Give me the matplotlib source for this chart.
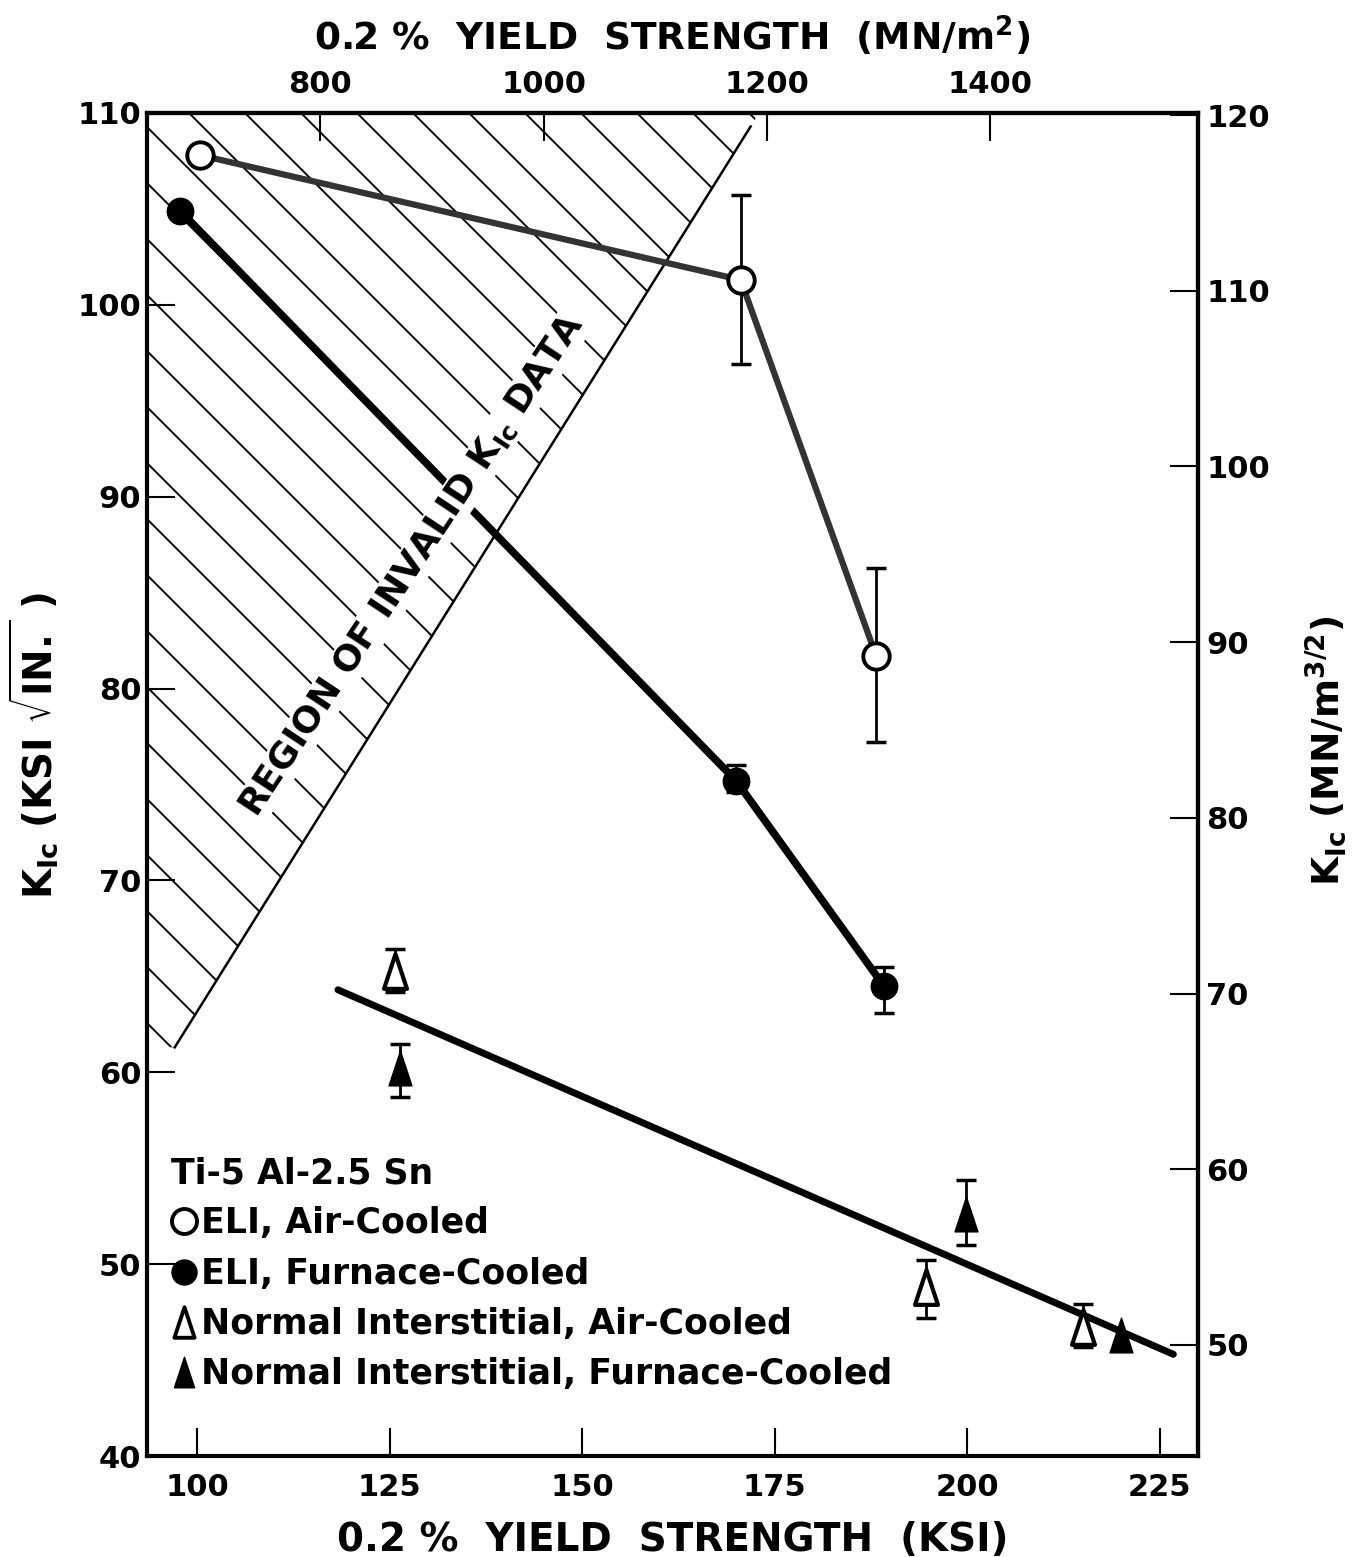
import numpy as np
import matplotlib
matplotlib.use('Agg')
import matplotlib.pyplot as plt
from matplotlib.patches import Polygon
from matplotlib.lines import Line2D
from matplotlib.path import Path

plt.rcParams['font.family'] = 'DejaVu Sans'
plt.rcParams['mathtext.default'] = 'regular'

# --- dados (KSI, KSI*sqrt(in)) ---
# ELI, resfriado ao ar (circulos abertos)
eli_ar_x = [100.4, 170.6, 188.2]
eli_ar_k = [107.8, 101.3, 81.7]
eli_ar_err_baixo = [0.0, 4.4, 4.5]
eli_ar_err_alto = [0.0, 4.4, 4.6]

# ELI, resfriado no forno (circulos cheios)
eli_forno_x = [97.8, 170.0, 189.2]
eli_forno_k = [104.9, 75.2, 64.5]
eli_forno_err_baixo = [0.0, 0.6, 1.4]
eli_forno_err_alto = [0.0, 0.8, 1.0]

# intersticial normal, ar (triangulos abertos)
normal_ar_x = [125.7, 194.7, 215.1]
normal_ar_k = [65.3, 48.8, 46.7]
normal_ar_err_baixo = [1.1, 1.6, 1.0]
normal_ar_err_alto = [1.1, 1.4, 1.2]

# intersticial normal, forno (triangulos cheios)
normal_forno_x = [126.4, 199.9, 220.0]
normal_forno_k = [60.2, 52.6, 46.3]
normal_forno_err_baixo = [1.5, 1.6, 0.0]
normal_forno_err_alto = [1.3, 1.8, 0.0]

# reta de tendencia dos intersticiais normais
tendencia_x = [118.3, 226.8]
tendencia_k = [64.3, 45.3]

# limite da regiao de dados invalidos
limite_x = [97.1, 171.9]
limite_k = [61.3, 109.3]

KSI_PARA_MN = 6.895
KIC_PARA_SI = 1.092

LARGURA_PX, ALTURA_PX, DPI = 1361, 1557, 100
figura = plt.figure(figsize=(LARGURA_PX / DPI, ALTURA_PX / DPI), dpi=DPI)
eixo = figura.add_axes([147 / LARGURA_PX, 1 - 1456 / ALTURA_PX,
                        (1198 - 147) / LARGURA_PX, (1456 - 113) / ALTURA_PX])
eixo.set_xlim(93.5, 230)
eixo.set_ylim(40, 110)

# triangulo marcado (regiao invalida)
x_min = eixo.get_xlim()[0]
inclinacao = (limite_k[1] - limite_k[0]) / (limite_x[1] - limite_x[0])
x_topo = limite_x[0] + (110 - limite_k[0]) / inclinacao
regiao = Polygon([(x_min, limite_k[0]), (limite_x[0], limite_k[0]), (x_topo, 110), (x_min, 110)],
                 closed=True, facecolor='none', edgecolor='none')
eixo.add_patch(regiao)

larg_eixo = 1198 - 147
alt_eixo = 1456 - 113
espaco = 56
for k in range(-40, 20):
    u0 = (42 + k * espaco) / larg_eixo
    linha, = eixo.plot([u0, u0 + 3000 / larg_eixo], [1, 1 - 3000 / alt_eixo],
                       transform=eixo.transAxes, color='black', lw=1.4, zorder=1)
    linha.set_clip_path(regiao)

eixo.plot(limite_x, limite_k, color='black', lw=1.8, zorder=1)

eixo.text(128.0, 86.4, r'REGION OF INVALID K$_{Ic}$ DATA', rotation=56.5,
          ha='center', va='center', fontsize=26, fontweight='bold', zorder=4,
          bbox=dict(facecolor='white', edgecolor='none', pad=1))

# linhas dos dados
eixo.plot(eli_ar_x, eli_ar_k, color='#333333', lw=4.5, zorder=3)
eixo.plot(eli_forno_x, eli_forno_k, color='black', lw=5.5, zorder=3)
eixo.plot(tendencia_x, tendencia_k, color='black', lw=5, zorder=3,
          solid_capstyle='round')


def barras_erro(x, k, baixo, alto):
    sel = [i for i in range(len(x)) if baixo[i] > 0 or alto[i] > 0]
    eixo.errorbar([x[i] for i in sel], [k[i] for i in sel],
                  yerr=[[baixo[i] for i in sel], [alto[i] for i in sel]],
                  fmt='none', ecolor='black', elinewidth=2, capsize=7,
                  capthick=2.5, zorder=4)


barras_erro(eli_ar_x, eli_ar_k, eli_ar_err_baixo, eli_ar_err_alto)
barras_erro(eli_forno_x, eli_forno_k, eli_forno_err_baixo, eli_forno_err_alto)
barras_erro(normal_ar_x, normal_ar_k, normal_ar_err_baixo, normal_ar_err_alto)
barras_erro(normal_forno_x, normal_forno_k, normal_forno_err_baixo, normal_forno_err_alto)

triangulo = Path([(-0.33, -0.5), (0.33, -0.5), (0, 0.5), (-0.33, -0.5)],
                 [Path.MOVETO, Path.LINETO, Path.LINETO, Path.CLOSEPOLY])

eixo.plot(eli_ar_x, eli_ar_k, 'o', ms=19, mfc='white', mec='black', mew=2.8,
          zorder=5, ls='none')
eixo.plot(eli_forno_x, eli_forno_k, 'o', ms=19, mfc='black', mec='black',
          zorder=5, ls='none')
eixo.plot(normal_ar_x, normal_ar_k, marker=triangulo, ms=25, mfc='white',
          mec='black', mew=3, zorder=5, ls='none')
eixo.plot(normal_forno_x, normal_forno_k, marker=triangulo, ms=25, mfc='black',
          mec='black', zorder=5, ls='none')

# legenda
alcas = [
    Line2D([], [], marker='o', ms=18, mfc='white', mec='black', mew=2.8, ls='none'),
    Line2D([], [], marker='o', ms=18, mfc='black', mec='black', ls='none'),
    Line2D([], [], marker=triangulo, ms=22, mfc='white', mec='black', mew=2.8, ls='none'),
    Line2D([], [], marker=triangulo, ms=22, mfc='black', mec='black', ls='none'),
]
rotulos = ['ELI, Air-Cooled', 'ELI, Furnace-Cooled',
           'Normal Interstitial, Air-Cooled', 'Normal Interstitial, Furnace-Cooled']
legenda = eixo.legend(alcas, rotulos, title='Ti-5 Al-2.5 Sn', loc='lower left',
                      bbox_to_anchor=(0.0, 0.03), frameon=False,
                      prop=dict(size=25, weight='bold'),
                      title_fontproperties=dict(size=25, weight='bold'),
                      handlelength=0.75, handletextpad=0.1,
                      labelspacing=0.47, borderaxespad=0.3)
legenda._legend_box.align = 'left'

# eixos e marcas
fonte_marcas = dict(size=22, weight='bold')
eixo.set_xticks([100, 125, 150, 175, 200, 225])
eixo.set_yticks([40, 50, 60, 70, 80, 90, 100, 110])
eixo.tick_params(direction='in', length=20, width=1.5, labelsize=22,
                 top=False, right=False)
eixo.tick_params(axis='x', pad=12)
eixo.tick_params(axis='y', pad=4)
for rotulo in eixo.get_xticklabels() + eixo.get_yticklabels():
    rotulo.set_fontweight('bold')
for lado in eixo.spines.values():
    lado.set_linewidth(3)

eixo_topo = eixo.secondary_xaxis('top', functions=(lambda v: v * KSI_PARA_MN,
                                                   lambda v: v / KSI_PARA_MN))
eixo_topo.set_xticks([800, 1000, 1200, 1400])
eixo_topo.set_xticklabels(['800', '1000', '1200', '1400'], fontdict=fonte_marcas)
eixo_topo.tick_params(direction='in', length=20, width=1.5, pad=10)
eixo_topo.spines['top'].set_linewidth(3)
eixo_topo.set_xlabel(r'0.2 %  YIELD  STRENGTH  (MN/m$^2$)', fontsize=27,
                     fontweight='bold', labelpad=14)

eixo_dir = eixo.secondary_yaxis('right', functions=(lambda v: v * KIC_PARA_SI,
                                                    lambda v: v / KIC_PARA_SI))
eixo_dir.set_yticks([50, 60, 70, 80, 90, 100, 110, 120])
eixo_dir.set_yticklabels(['50', '60', '70', '80', '90', '100', '110', '120'],
                         fontdict=fonte_marcas)
eixo_dir.tick_params(direction='in', length=20, width=1.5, pad=6)
eixo_dir.spines['right'].set_linewidth(3)
eixo_dir.set_ylabel(r'K$_{Ic}$ (MN/m$^{3/2}$)', fontsize=27, fontweight='bold')
eixo_dir.yaxis.set_label_coords(1.100, 0.525, transform=eixo.transAxes)

eixo.set_xlabel('0.2 %  YIELD  STRENGTH  (KSI)', fontsize=28, fontweight='bold',
                labelpad=14)
eixo.set_ylabel(r'K$_{Ic}$ (KSI $\sqrt{IN.}$ )', fontsize=28, fontweight='bold')
eixo.yaxis.set_label_coords(-0.083, 0.529)

figura.savefig('out.png', dpi=DPI, facecolor='white')
